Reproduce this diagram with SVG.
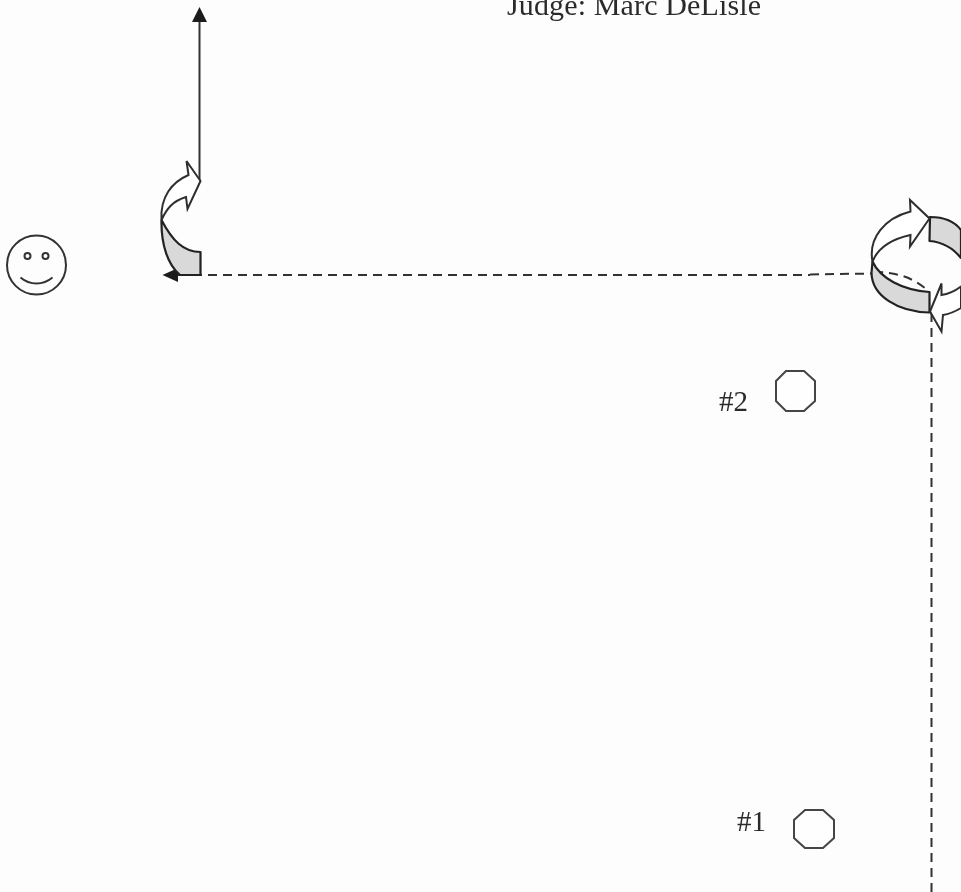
<svg xmlns="http://www.w3.org/2000/svg" width="961" height="892" viewBox="0 0 961 892">
<style>
.ln{fill:none;stroke:#333;stroke-width:2}
.dash{fill:none;stroke:#333;stroke-width:2;stroke-dasharray:9 6}
.w{fill:#fff;stroke:#2e2e2e;stroke-width:2;stroke-linejoin:miter}
.g{fill:#d9d9d9;stroke:#222;stroke-width:2.200;stroke-linejoin:round}
.oct{fill:#fefefe;stroke:#444;stroke-width:2}
.t{font-family:"Liberation Serif","Times New Roman",serif;fill:#2c2c2c}
.head{fill:#1c1c1c}
</style>
<defs><filter id="scan" filterUnits="userSpaceOnUse" x="0" y="0" width="961" height="892"><feGaussianBlur stdDeviation="0.450"/></filter></defs>
<rect width="961" height="892" fill="#fdfdfd"/>
<g filter="url(#scan)">
<g id="connectors">
<path class="ln" d="M199.500 20V180"/>
<polygon class="head" points="199.500,7 192,22 207,22"/>
<path class="dash" d="M178 275H810"/>
<path class="dash" d="M810 274.500L872 273.500"/>
<polygon class="head" points="162.500,275 178,268 178,282"/>
<path class="dash" d="M874 272C895 272 912 277 926 289"/>
<path class="dash" d="M931.500 313V892"/>
</g>
<g id="turn-left">
<path class="g" d="M161.500 220C172 240 183 252 200.500 252V275H180C168 265 161 245 161.500 220Z"/>
<path class="w" d="M161.500 220C160 197 172 182 188.500 175L186.500 161L200.500 181L187.500 209L186 197C173 201 167 208 161.500 220Z"/>
</g>
<g id="roundabout">
<path class="g" d="M930 217C945 217 955 222 961 230V258C953 248 942 242 929.500 241Z"/>
<path class="g" d="M872.500 261.500C880 278 902 290 929.500 292V312.500C898 312 872 296 871.500 273Z"/>
<path class="w" d="M872.500 261.500C868 238 885 218 910.500 211.500L910 200L929.500 218.500L910 246.500L910.500 235C892 239 878 248 872.500 261.500Z"/>
<path class="w" d="M961 286.500C955 291 949 294 941.500 295L941.500 283.500L930 311.500L941.500 331.500L943 315C950 314 956 311 961 308Z"/>
</g>
<g id="smiley">
<circle class="ln" cx="36.500" cy="265" r="29.500"/>
<circle class="ln" cx="27.500" cy="256" r="3"/>
<circle class="ln" cx="45.500" cy="256" r="3"/>
<path class="ln" d="M20.500 277.500C30 285.500 43 285.500 52.500 277.500"/>
</g>
<g id="judge"><text class="t" x="507" y="14.500" font-size="30" textLength="254">Judge: Marc DeLisle</text></g>
<g id="post-2">
<text class="t" x="719" y="411" font-size="29">#2</text>
<polygon class="oct" points="786,371 804,371 815,381 815,401 804,411 786,411 776,401 776,381"/>
</g>
<g id="post-1">
<text class="t" x="737" y="831" font-size="29">#1</text>
<polygon class="oct" points="805,810 823,810 834,820 834,838 823,848 805,848 794,838 794,820"/>
</g>
</g>
</svg>
